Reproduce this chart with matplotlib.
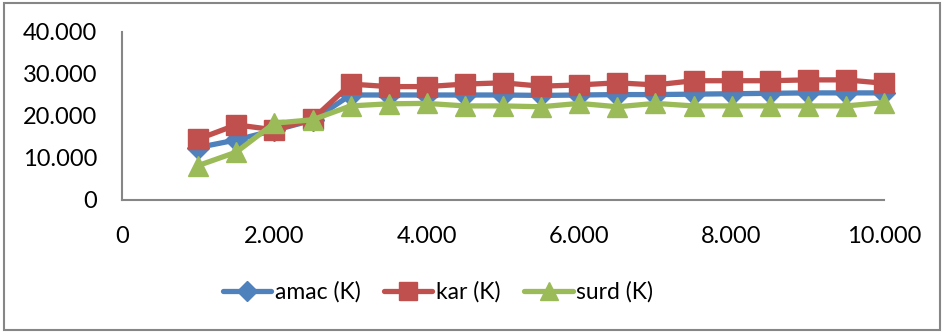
import matplotlib
matplotlib.use("Agg")
import matplotlib.pyplot as plt
from matplotlib.patches import Rectangle
from matplotlib.ticker import FixedLocator, FuncFormatter

plt.rcParams['font.family'] = ['Lato', 'DejaVu Sans']

# Data
x_values = [1.0, 1.5, 2.0, 2.5, 3.0, 3.5, 4.0, 4.5, 5.0, 5.5,
            6.0, 6.5, 7.0, 7.5, 8.0, 8.5, 9.0, 9.5, 10.0]
amac = [12.5, 14.3, 16.6, 19.0, 25.0, 25.0, 25.0, 25.0, 25.0, 24.9,
        25.0, 25.1, 25.1, 25.2, 25.3, 25.4, 25.5, 25.5, 25.5]
kar = [14.5, 17.9, 16.7, 19.2, 27.6, 27.0, 27.0, 27.6, 27.9, 27.1,
       27.4, 27.9, 27.4, 28.4, 28.4, 28.4, 28.6, 28.6, 27.8]
surd = [8.2, 11.4, 18.3, 19.1, 22.4, 22.9, 23.0, 22.4, 22.4, 22.2,
        23.0, 22.2, 23.0, 22.4, 22.4, 22.4, 22.4, 22.4, 23.2]
series_labels = ['amac (K)', 'kar (K)', 'surd (K)']
x_ticks = [0, 2, 4, 6, 8, 10]
y_ticks = [0, 10, 20, 30, 40]

W, H = 944, 333
fig = plt.figure(figsize=(W / 100, H / 100), dpi=100)
ax = fig.add_axes([122 / W, 1 - 200 / H, (884 - 122) / W, (200 - 32) / H])

styles = [
    dict(color='#4F81BD', marker='D', markersize=11),
    dict(color='#C0504D', marker='s', markersize=14),
    dict(color='#9BBB59', marker='^', markersize=15),
]
for vals, lab, st in zip([amac, kar, surd], series_labels, styles):
    ax.plot(x_values, vals, color=st['color'], marker=st['marker'],
            markersize=st['markersize'], markerfacecolor=st['color'],
            markeredgecolor=st['color'], linewidth=3.8, label=lab,
            solid_capstyle='round', clip_on=False)

ax.set_xlim(0, 10)
ax.set_ylim(0, 40)
ax.xaxis.set_major_locator(FixedLocator(x_ticks))
ax.yaxis.set_major_locator(FixedLocator(y_ticks))
fmt = FuncFormatter(lambda v, p: '0' if v == 0 else f'{int(v)}.000')
ax.xaxis.set_major_formatter(fmt)
ax.yaxis.set_major_formatter(fmt)
ax.tick_params(axis='both', length=0, labelsize=17, colors='black')
ax.tick_params(axis='x', pad=19)
ax.tick_params(axis='y', pad=18)

for side in ['top', 'right']:
    ax.spines[side].set_visible(False)
for side in ['left', 'bottom']:
    ax.spines[side].set_color('#868686')
    ax.spines[side].set_linewidth(1.5)

leg = fig.legend(loc='center', bbox_to_anchor=(438 / W, 1 - 292 / H),
                 ncol=3, frameon=False, fontsize=16.5, handlelength=2.1,
                 handletextpad=0.15, columnspacing=1.05, borderaxespad=0,
                 markerscale=0.9)

# Chart border
fig.patches.append(Rectangle((4 / W, 3 / H), (940 - 4) / W, (330 - 3) / H,
                             transform=fig.transFigure, fill=False,
                             edgecolor='#868686', linewidth=1.5))

fig.savefig('out.png', dpi=100)
